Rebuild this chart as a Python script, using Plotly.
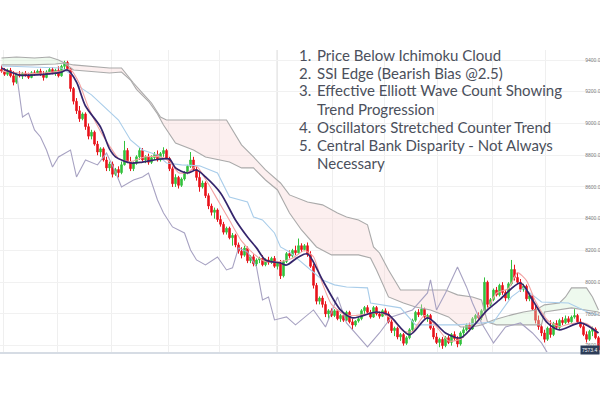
import plotly.graph_objects as go

# ---------------- candle data (index 0..199) ----------------
open_ = [
    9340, 9330, 9310, 9335, 9300, 9260, 9310, 9300, 9315, 9305,
    9290, 9320, 9310, 9330, 9310, 9290, 9325, 9340, 9320, 9335,
    9300, 9360, 9385, 9345, 9220, 9140, 9080, 9030, 9060, 8980,
    8920, 8945, 8870, 8820, 8840, 8770, 8720, 8745, 8680, 8710,
    8690, 8740, 8830, 8760, 8715, 8750, 8790, 8830, 8770, 8790,
    8755, 8785, 8805, 8770, 8810, 8830, 8780, 8715, 8620, 8660,
    8610, 8650, 8690, 8730, 8770, 8710, 8660, 8600, 8625, 8545,
    8480, 8440, 8455, 8395, 8365, 8315, 8340, 8280, 8295, 8235,
    8195, 8170, 8215, 8135, 8160, 8115, 8140, 8150, 8110, 8140,
    8125, 8150, 8100, 8120, 8040, 8130, 8180, 8165, 8200, 8185,
    8230, 8205, 8230, 8175, 8100, 7980, 7880, 7900, 7860, 7800,
    7820, 7790, 7820, 7770, 7790, 7760, 7810, 7750, 7730, 7755,
    7770, 7820, 7840, 7810, 7780, 7840, 7800, 7785, 7820, 7800,
    7750, 7695, 7710, 7655, 7670, 7615, 7650, 7700, 7760, 7810,
    7795, 7830, 7780, 7790, 7710, 7655, 7620, 7640, 7600, 7650,
    7620, 7670, 7645, 7610, 7680, 7700, 7730, 7705, 7770, 7790,
    7775, 7820, 8000, 7860, 7890, 7950, 7920, 7980, 7935, 7900,
    7990, 8080, 8030, 8000, 7955, 7975, 7895, 7915, 7830, 7760,
    7720, 7680, 7640, 7710, 7670, 7740, 7715, 7760, 7745, 7770,
    7750, 7780, 7790, 7750, 7720, 7670, 7640, 7690, 7705, 7650,
]
high = [
    9365, 9350, 9345, 9350, 9330, 9320, 9330, 9325, 9330, 9320,
    9330, 9335, 9340, 9345, 9330, 9335, 9350, 9355, 9345, 9360,
    9370, 9395, 9395, 9350, 9230, 9160, 9110, 9070, 9070, 9000,
    8960, 8955, 8890, 8850, 8850, 8790, 8760, 8760, 8720, 8730,
    8760, 8890, 8845, 8790, 8760, 8800, 8850, 8845, 8800, 8810,
    8800, 8820, 8830, 8820, 8850, 8840, 8790, 8730, 8680, 8670,
    8660, 8700, 8740, 8820, 8790, 8725, 8700, 8640, 8635, 8560,
    8495, 8470, 8465, 8420, 8380, 8350, 8350, 8310, 8305, 8250,
    8220, 8230, 8225, 8170, 8175, 8150, 8160, 8170, 8150, 8160,
    8160, 8165, 8130, 8140, 8140, 8190, 8200, 8210, 8230, 8275,
    8245, 8240, 8250, 8195, 8115, 7995, 7910, 7915, 7880, 7830,
    7835, 7830, 7830, 7800, 7800, 7820, 7820, 7770, 7760, 7780,
    7830, 7850, 7855, 7825, 7850, 7850, 7815, 7830, 7835, 7815,
    7765, 7720, 7720, 7680, 7680, 7660, 7710, 7770, 7820, 7830,
    7860, 7840, 7800, 7800, 7725, 7680, 7650, 7655, 7660, 7665,
    7680, 7690, 7660, 7690, 7720, 7740, 7745, 7780, 7800, 7810,
    7830, 8030, 8010, 7900, 7960, 7970, 7990, 8000, 7950, 8000,
    8140, 8110, 8060, 8020, 7990, 7985, 7930, 7925, 7850, 7790,
    7740, 7700, 7720, 7760, 7750, 7760, 7770, 7780, 7790, 7785,
    7790, 7830, 7800, 7770, 7735, 7690, 7700, 7720, 7715, 7660,
]
low = [
    9320, 9300, 9300, 9290, 9240, 9250, 9290, 9280, 9295, 9280,
    9285, 9300, 9305, 9300, 9270, 9285, 9310, 9310, 9300, 9290,
    9295, 9340, 9330, 9200, 9120, 9060, 9010, 9020, 8960, 8900,
    8900, 8860, 8800, 8790, 8760, 8700, 8700, 8660, 8670, 8660,
    8680, 8735, 8750, 8700, 8700, 8740, 8770, 8760, 8750, 8740,
    8745, 8770, 8760, 8760, 8790, 8770, 8700, 8600, 8600, 8590,
    8600, 8640, 8680, 8720, 8700, 8640, 8570, 8590, 8530, 8460,
    8420, 8400, 8380, 8350, 8300, 8300, 8270, 8230, 8220, 8180,
    8150, 8160, 8120, 8120, 8100, 8100, 8120, 8100, 8100, 8110,
    8115, 8090, 8080, 8020, 8030, 8120, 8150, 8155, 8170, 8180,
    8190, 8195, 8160, 8090, 7960, 7860, 7860, 7840, 7780, 7770,
    7780, 7780, 7760, 7750, 7750, 7755, 7740, 7700, 7720, 7745,
    7760, 7800, 7800, 7770, 7775, 7790, 7770, 7780, 7790, 7740,
    7680, 7660, 7640, 7630, 7600, 7605, 7640, 7690, 7750, 7780,
    7790, 7770, 7750, 7700, 7640, 7610, 7590, 7580, 7590, 7610,
    7600, 7630, 7590, 7600, 7650, 7690, 7690, 7700, 7740, 7760,
    7760, 7815, 7840, 7850, 7880, 7910, 7910, 7920, 7880, 7890,
    7980, 8010, 7990, 7940, 7940, 7880, 7880, 7820, 7740, 7700,
    7660, 7620, 7630, 7650, 7660, 7700, 7705, 7730, 7735, 7740,
    7745, 7770, 7740, 7710, 7660, 7620, 7630, 7660, 7640, 7560,
]
close = [
    9330, 9310, 9335, 9300, 9260, 9310, 9300, 9315, 9305, 9290,
    9320, 9310, 9330, 9310, 9290, 9325, 9340, 9320, 9335, 9300,
    9360, 9385, 9345, 9220, 9140, 9080, 9030, 9060, 8980, 8920,
    8945, 8870, 8820, 8840, 8770, 8720, 8745, 8680, 8710, 8690,
    8740, 8830, 8760, 8715, 8750, 8790, 8830, 8770, 8790, 8755,
    8785, 8805, 8770, 8810, 8830, 8780, 8715, 8620, 8660, 8610,
    8650, 8690, 8730, 8770, 8710, 8660, 8600, 8625, 8545, 8480,
    8440, 8455, 8395, 8365, 8315, 8340, 8280, 8295, 8235, 8195,
    8170, 8215, 8135, 8160, 8115, 8140, 8150, 8110, 8140, 8125,
    8150, 8100, 8120, 8040, 8130, 8180, 8165, 8200, 8185, 8230,
    8205, 8230, 8175, 8100, 7980, 7880, 7900, 7860, 7800, 7820,
    7790, 7820, 7770, 7790, 7760, 7810, 7750, 7730, 7755, 7770,
    7820, 7840, 7810, 7780, 7840, 7800, 7785, 7820, 7800, 7750,
    7695, 7710, 7655, 7670, 7615, 7650, 7700, 7760, 7810, 7795,
    7830, 7780, 7790, 7710, 7655, 7620, 7640, 7600, 7650, 7620,
    7670, 7645, 7610, 7680, 7700, 7730, 7705, 7770, 7790, 7775,
    7820, 8000, 7860, 7890, 7950, 7920, 7980, 7935, 7900, 7990,
    8080, 8030, 8000, 7955, 7975, 7895, 7915, 7830, 7760, 7720,
    7680, 7640, 7710, 7670, 7740, 7715, 7760, 7745, 7770, 7750,
    7780, 7790, 7750, 7720, 7670, 7640, 7690, 7705, 7650, 7573,
]
bar_index = list(range(len(close)))

# ---------------- indicator lines (sampled at bar index) ----------------
ma_idx = [0, 3, 6, 10, 16, 20, 22, 25, 28, 33, 36, 38, 43, 47, 53, 56, 58, 62, 65, 68,
          73, 78, 82, 85, 88, 93, 95, 99, 102, 107, 113, 117, 125, 129, 136, 142, 148,
          153, 157, 162, 166, 173, 177, 182, 186, 193, 199]
ma_val = [9350, 9324, 9305, 9305, 9312, 9324, 9337, 9261, 9110, 8978, 8840, 8790, 8751,
          8757, 8776, 8776, 8720, 8688, 8707, 8663, 8562, 8392, 8285, 8216, 8140, 8121,
          8108, 8159, 8178, 8014, 7825, 7775, 7812, 7794, 7668, 7775, 7680, 7649, 7718,
          7825, 7888, 7995, 7888, 7743, 7699, 7743, 7680]

tenkan_idx = [0, 5, 10, 15, 20, 23, 26, 29, 33, 36, 39, 43, 48, 53, 56, 59, 62, 65, 68, 72,
              76, 80, 84, 88, 93, 97, 101, 104, 107, 110, 114, 118, 122, 126, 130, 134, 137,
              141, 145, 149, 153, 157, 161, 165, 169, 172, 175, 178, 182, 186, 190, 195, 199]
tenkan_val = [9330, 9320, 9315, 9320, 9330, 9340, 9250, 9100, 8950, 8860, 8780, 8760, 8790,
              8790, 8760, 8690, 8690, 8730, 8650, 8520, 8390, 8260, 8180, 8130, 8130, 8150,
              8200, 8160, 7990, 7860, 7800, 7790, 7800, 7810, 7770, 7690, 7690, 7790, 7720,
              7630, 7640, 7720, 7800, 7930, 7960, 8060, 8010, 7880, 7760, 7720, 7740, 7740,
              7680]

kijun_idx = [0, 14, 20, 24, 26, 30, 33, 36, 39, 43, 47, 52, 55, 60, 66, 72, 76, 82, 84, 87,
             91, 93, 96, 107, 111, 115, 122, 123, 133, 138, 152, 164, 170, 174, 180, 189, 196, 199]
kijun_val = [9362, 9356, 9350, 9300, 9230, 9180, 9129, 9072, 9022, 8896, 8833, 8802, 8751,
             8739, 8733, 8688, 8537, 8505, 8411, 8392, 8310, 8222, 8190, 8014, 7983, 7970,
             7964, 7869, 7838, 7731, 7731, 7749, 7907, 7964, 7875, 7869, 7806, 7794]

chikou_idx = [5, 7, 9, 11, 13, 15, 17, 19, 23, 25, 28, 32, 35, 38, 40, 44, 47, 49, 52, 54,
              57, 61, 63, 65, 68, 72, 75, 77, 79, 82, 85, 87, 89, 91, 95, 98, 104, 108, 112,
              115, 122, 126, 130, 137, 142, 143, 145, 148, 152, 155, 157, 160, 164, 168, 173,
              177, 180, 182]
chikou_val = [9318, 9041, 9066, 8959, 8915, 8833, 8726, 8789, 8833, 8663, 8770, 8739, 8814,
              8694, 8600, 8644, 8663, 8688, 8518, 8436, 8348, 8310, 8203, 8140, 8109, 8159,
              8077, 8090, 8216, 8190, 8096, 7888, 7907, 7762, 7781, 7731, 7825, 7718, 7907,
              7743, 7592, 7680, 7781, 7825, 7932, 8014, 7825, 7932, 8096, 7970, 7869, 7743,
              7617, 7718, 7743, 7680, 7617, 7554]

span_a_idx = [0, 5, 11, 16, 19, 21, 24, 33, 36, 40, 43, 45, 49, 52, 54, 58, 64, 68, 76, 80,
              84, 88, 92, 96, 100, 105, 110, 119, 123, 125, 127, 129, 134, 138, 143, 149,
              153, 157, 160, 162, 164, 170, 174, 178, 181, 186, 188, 190, 195, 197, 199]
span_a_val = [9413, 9419, 9413, 9419, 9400, 9381, 9337, 9324, 9318, 9324, 9274, 9215, 9140,
              9060, 8990, 8877, 8833, 8789, 8757, 8720, 8720, 8644, 8581, 8436, 8329, 8222,
              8172, 8172, 8153, 8077, 7995, 7907, 7869, 7844, 7825, 7781, 7718, 7718, 7731,
              7749, 7762, 7794, 7812, 7825, 7857, 7869, 7907, 7964, 7964, 7907, 7825]

span_b_idx = [0, 10, 18, 21, 24, 36, 40, 44, 47, 50, 53, 55, 75, 77, 80, 84, 88, 93, 96, 102,
              107, 112, 115, 119, 122, 124, 126, 129, 133, 148, 152, 157, 160, 162, 165, 180,
              181, 190, 199]
span_b_val = [9369, 9369, 9375, 9381, 9369, 9350, 9350, 9255, 9192, 9129, 9041, 9022, 9022,
              8959, 8865, 8789, 8707, 8625, 8550, 8505, 8487, 8436, 8411, 8392, 8361, 8222,
              8184, 8077, 7951, 7951, 7920, 7907, 7888, 7749, 7731, 7731, 7812, 7838, 7812]

# cloud segments between crossings: (start, end, bullish?)
cloud_segments = [(0, 21, True), (21, 162, False), (162, 199, True)]

price_ticks = [9400, 9200, 9000, 8800, 8600, 8400, 8200, 8000, 7800, 7600]
last_price = 7573.4

list_numbers = ["1.", "2.", "3.", "", "4.", "5.", ""]
list_lines = [
    "Price Below Ichimoku Cloud",
    "SSI Edge (Bearish Bias @2.5)",
    "Effective Elliott Wave Count Showing",
    "Trend Progression",
    "Oscillators Stretched Counter Trend",
    "Central Bank Disparity - Not Always",
    "Necessary",
]

# ---------------- figure ----------------
fig = go.Figure()

GREEN_FILL = "rgba(205,238,205,0.35)"
PINK_FILL = "rgba(245,205,205,0.33)"
for lo, hi, bull in cloud_segments:
    ax = [i for i in span_a_idx if lo <= i <= hi]
    ay = [v for i, v in zip(span_a_idx, span_a_val) if lo <= i <= hi]
    bx = [i for i in span_b_idx if lo <= i <= hi]
    by = [v for i, v in zip(span_b_idx, span_b_val) if lo <= i <= hi]
    fig.add_trace(go.Scatter(
        x=ax + bx[::-1], y=ay + by[::-1], mode="lines", fill="toself",
        fillcolor=GREEN_FILL if bull else PINK_FILL, line=dict(width=0),
        hoverinfo="skip"))

fig.add_trace(go.Scatter(x=span_a_idx, y=span_a_val, mode="lines",
                         line=dict(color="#aaaaaa", width=1.1)))
fig.add_trace(go.Scatter(x=span_b_idx, y=span_b_val, mode="lines",
                         line=dict(color="#aaaaaa", width=1.1)))
fig.add_trace(go.Scatter(x=chikou_idx, y=chikou_val, mode="lines",
                         line=dict(color="#a7a2c2", width=1.1)))
fig.add_trace(go.Scatter(x=kijun_idx, y=kijun_val, mode="lines",
                         line=dict(color="#a9cdea", width=1.1)))
fig.add_trace(go.Scatter(x=tenkan_idx, y=tenkan_val, mode="lines",
                         line=dict(color="#f3a3a3", width=1.1, shape="spline", smoothing=0.6)))

fig.add_trace(go.Candlestick(
    x=bar_index, open=open_, high=high, low=low, close=close,
    increasing=dict(line=dict(color="#33c13d", width=1), fillcolor="#33c13d"),
    decreasing=dict(line=dict(color="#e8141c", width=1), fillcolor="#e8141c"),
    whiskerwidth=0, hoverinfo="skip"))

fig.add_trace(go.Scatter(x=ma_idx, y=ma_val, mode="lines",
                         line=dict(color="#35256c", width=1.7, shape="spline", smoothing=0.8)))

# ---------------- layout ----------------
T, B = 50, 51
H = 403
plot_h = H - T - B

fig.update_layout(
    width=600, height=403,
    margin=dict(l=0, r=0, t=T, b=B),
    paper_bgcolor="white", plot_bgcolor="white",
    showlegend=False, hovermode=False,
    xaxis=dict(
        domain=[0, 1],
        range=[-0.5, 199.5], rangeslider=dict(visible=False),
        tickvals=[0.5, 18.8, 36.8, 55.5, 72.8, 91.8, 110.2, 127.8, 145.2, 163.5, 181.2],
        showticklabels=False, ticks="", showgrid=True, gridcolor="#efefef", gridwidth=1,
        zeroline=False, showline=True, linecolor="#d6dce4", linewidth=2,
    ),
    yaxis=dict(
        range=[7560, 9463], side="right", anchor="free", position=0.972,
        tickvals=price_ticks, tickformat=".1f",
        tickfont=dict(family="Liberation Sans", size=5, color="#7a7a7a"),
        showgrid=True, gridcolor="#f1f1f1", gridwidth=1, zeroline=False,
        ticks="", showline=False, ticklabelstandoff=1,
    ),
    shapes=[dict(type="line", xref="x", yref="paper", x0=91.8, x1=91.8, y0=0, y1=1,
                 line=dict(color="#dedede", width=1.5), layer="below")],
)

# last price tag
fig.add_annotation(x=1, xref="paper", y=last_price, yref="y", xanchor="right",
                   yanchor="middle", text=f"{last_price:.1f}", showarrow=False,
                   bgcolor="#2d3d58", borderpad=1,
                   font=dict(family="Liberation Sans", size=5, color="white"))

# numbered list text
baselines = [60.7, 78.3, 95.7, 114.0, 132.3, 150.0, 168.0]
fs = 15
for num, txt, base in zip(list_numbers, list_lines, baselines):
    cy = base - 0.3 * fs - 1
    yp = (H - B - cy) / plot_h
    if num:
        fig.add_annotation(x=298 / 600, xref="paper", y=yp, yref="paper", xanchor="left",
                           yanchor="middle", text=num, showarrow=False, borderpad=0,
                           font=dict(family="Lato", size=fs, color="#4b505c"))
    fig.add_annotation(x=316 / 600, xref="paper", y=yp, yref="paper", xanchor="left",
                       yanchor="middle", text=txt, showarrow=False, borderpad=0,
                       font=dict(family="Lato", size=fs, color="#4b505c"))

fig.write_html("out.html",
               config={"displayModeBar": False},
               post_script="document.body.style.margin='0';document.body.style.padding='0';")
